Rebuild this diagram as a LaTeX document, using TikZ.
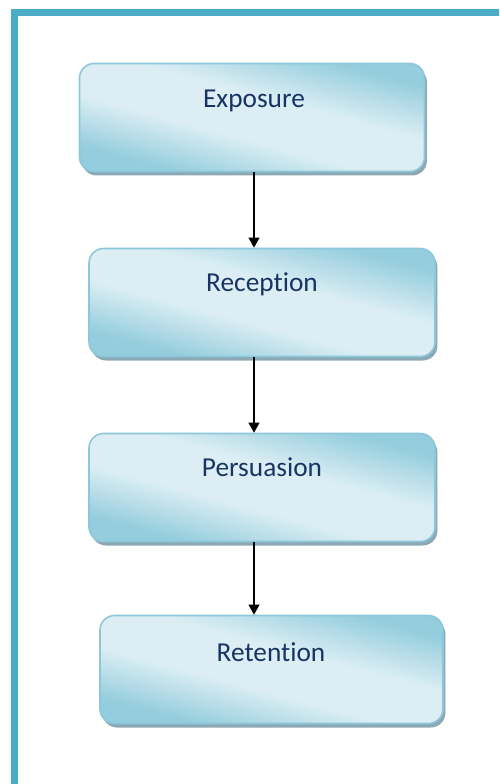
\documentclass[tikz,border=0pt]{standalone}
\usepackage{fontspec}
\setmainfont[Ligatures=NoCommon]{Carlito}
\usetikzlibrary{arrows.meta,shadows,calc}
\definecolor{framec}{RGB}{75,172,198}
\definecolor{boxdark}{RGB}{148,205,221}
\definecolor{boxlight}{RGB}{220,238,244}
\definecolor{boxedge}{RGB}{140,200,218}
\definecolor{shadowc}{RGB}{140,168,180}
\definecolor{textc}{RGB}{23,52,100}
\pgfdeclareverticalshading{boxshade}{100bp}{color(0bp)=(boxdark); color(27bp)=(boxdark); color(43bp)=(boxlight); color(57bp)=(boxlight); color(74bp)=(boxdark); color(100bp)=(boxdark)}
\tikzset{
  stagebox/.style={draw=boxedge, line width=1.2pt, rounded corners=11pt,
    shading=boxshade, shading angle=-15, minimum width=#1*0.75pt, minimum height=108*0.75pt,
    drop shadow={shadow xshift=1.8pt, shadow yshift=-3pt, fill=shadowc, opacity=1}},
  lbl/.style={text=textc, font=\fontsize{20.5}{24}\selectfont, inner sep=0pt},
  arr/.style={line width=1.5pt, -{Triangle[width=8pt,length=7.5pt]}}
}
\begin{document}
\begin{tikzpicture}[x=0.75pt,y=-0.75pt]
\useasboundingbox (0,0) rectangle (499,784);
\clip (0,0) rectangle (499,784);
\fill[white] (0,0) rectangle (499,784);
\draw[framec, line width=5.25pt] (14,12.5) rectangle (540,830);
\node[stagebox=345] (b1) at (252,117.5) {};
\node[stagebox=346] (b2) at (262,302.5) {};
\node[stagebox=346] (b3) at (262,487.5) {};
\node[stagebox=343] (b4) at (271.5,669.5) {};
\node[lbl] (t1) at (254,101) {Exposure};
\node[lbl] (t2) at (262,284) {Reception};
\node[lbl] (t3) at (262,467) {Persuasion};
\node[lbl] (t4) at (271,652) {Retention};
\coordinate (ax) at (254,0);
\draw[arr] (b1.south -| ax) -- (b2.north -| ax);
\draw[arr] (b2.south -| ax) -- (b3.north -| ax);
\draw[arr] (b3.south -| ax) -- (b4.north -| ax);
\end{tikzpicture}
\end{document}
